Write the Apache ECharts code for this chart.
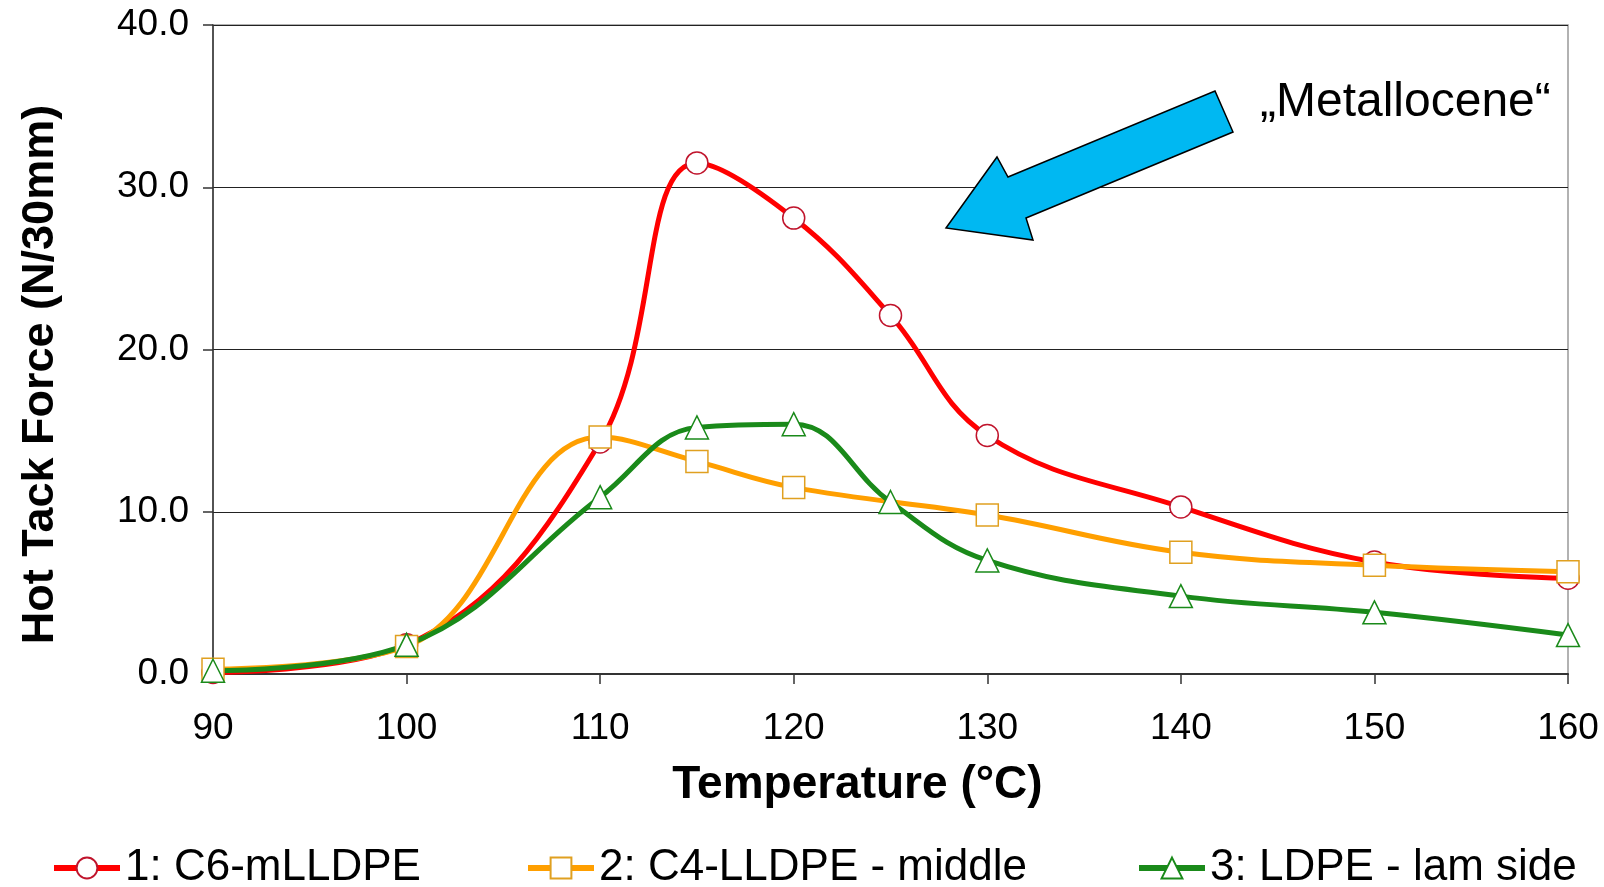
<!DOCTYPE html>
<html><head><meta charset="utf-8">
<script src="https://cdn.jsdelivr.net/npm/echarts@6/dist/echarts.min.js"></script>
<style>html,body{margin:0;padding:0;background:#fff}#c{width:1604px;height:887px}</style>
</head><body><div id="c"></div>
<script>
const temps1 = [90, 100, 110, 115, 120, 125, 130, 140, 150, 160];
const c6mLLDPE = [0.1, 1.8, 14.3, 31.5, 28.1, 22.1, 14.7, 10.3, 6.9, 5.9];
const temps2 = [90, 100, 110, 115, 120, 130, 140, 150, 160];
const c4LLDPE = [0.3, 1.7, 14.6, 13.1, 11.5, 9.8, 7.5, 6.7, 6.3];
const temps3 = [90, 100, 110, 115, 120, 125, 130, 140, 150, 160];
const ldpe = [0.2, 1.8, 10.9, 15.2, 15.4, 10.6, 7.0, 4.8, 3.8, 2.4];
const seriesNames = ['1: C6-mLLDPE', '2: C4-LLDPE - middle', '3: LDPE - lam side'];
const yTicks = [0, 10, 20, 30, 40];
const xTicks = [90, 100, 110, 120, 130, 140, 150, 160];

const zip = (xs, ys) => xs.map((x, i) => [x, ys[i]]);
const font = "'Liberation Sans', Arial, sans-serif";
const chart = echarts.init(document.getElementById('c'));
const mk = (name, xs, ys, color, border, symbol, size) => ({
  name, type: 'line', smooth: 0.4, data: zip(xs, ys),
  symbol, symbolSize: size,
  lineStyle: { color, width: 5 },
  itemStyle: { color: '#fff', borderColor: border, borderWidth: 1.5 },
  emphasis: { disabled: true }
});
const legendCommon = {
  top: 841, itemWidth: 66, itemHeight: 26, itemGap: 10,
  lineStyle: { width: 6 },
  textStyle: { fontFamily: font, fontSize: 44, color: '#000' }
};
chart.setOption({
  animation: false,
  grid: { left: 213, right: 36, top: 25, bottom: 213, show: true, borderColor: '#999', borderWidth: 1.5 },
  xAxis: {
    type: 'value', min: 90, max: 160, interval: 10,
    name: 'Temperature (°C)', nameLocation: 'middle', nameGap: 88,
    nameTextStyle: { fontFamily: font, fontSize: 46, fontWeight: 'bold', color: '#000', padding: [0, 66, 0, 0] },
    axisLine: { lineStyle: { color: '#333', width: 2 } },
    axisTick: { show: true, length: 10, inside: false, lineStyle: { color: '#333', width: 1.5 } },
    axisLabel: { fontFamily: font, fontSize: 37, color: '#000', margin: 36,
      formatter: v => xTicks.includes(v) ? String(v) : '' },
    splitLine: { show: false }
  },
  yAxis: {
    type: 'value', min: 0, max: 40, interval: 10,
    name: 'Hot Tack Force (N/30mm)', nameLocation: 'middle', nameGap: 150,
    nameTextStyle: { fontFamily: font, fontSize: 45, fontWeight: 'bold', color: '#000', padding: [0, 50, 0, 0] },
    axisLine: { show: true, lineStyle: { color: '#333', width: 1.5 } },
    axisTick: { show: true, length: 10, inside: false, lineStyle: { color: '#333', width: 1.5 } },
    axisLabel: { fontFamily: font, fontSize: 37, color: '#000', margin: 24,
      formatter: v => yTicks.includes(v) ? v.toFixed(1) : '' },
    splitLine: { show: true, lineStyle: { color: '#222', width: 1.2 } }
  },
  legend: [
    Object.assign({ left: 46, data: [seriesNames[0]] }, legendCommon),
    Object.assign({ left: 520, data: [seriesNames[1]] }, legendCommon),
    Object.assign({ left: 1131, data: [seriesNames[2]] }, legendCommon)
  ],
  graphic: [
    { type: 'polygon', z: 100,
      shape: { points: [[946, 228], [997, 157], [1008, 177], [1215, 91], [1233, 132], [1026, 218], [1033, 240]] },
      style: { fill: '#00B8F2', stroke: '#000', lineWidth: 1.5 } },
    { type: 'text', z: 100, left: 1260, top: 79,
      style: { text: '„Metallocene“', font: '48px ' + font, fill: '#000' } }
  ],
  series: [
    mk(seriesNames[0], temps1, c6mLLDPE, '#FF0000', '#C0142C', 'circle', 22),
    mk(seriesNames[1], temps2, c4LLDPE, '#FF9F00', '#E0A020', 'rect', 22),
    mk(seriesNames[2], temps3, ldpe, '#1A8A1A', '#1A8A1A', 'triangle', 23)
  ]
});
</script>
</body></html>
